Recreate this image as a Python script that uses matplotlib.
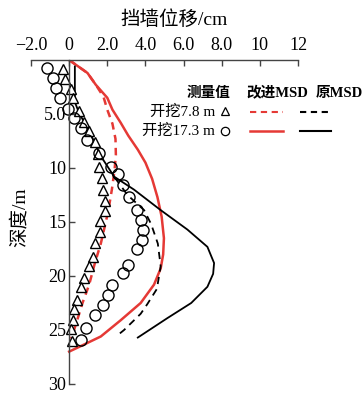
import matplotlib
matplotlib.use("Agg")
import matplotlib.pyplot as plt
from matplotlib.lines import Line2D

plt.rcParams['font.family'] = ['Liberation Serif', 'Noto Sans CJK SC']
plt.rcParams['axes.unicode_minus'] = True

# measured points (depth in m, displacement in cm)
tri_y = [0.83, 1.76, 2.65, 3.5, 4.7, 5.7, 6.6, 7.6, 8.7, 9.9, 10.9, 12.0, 13.1,
         14.0, 14.9, 15.9, 16.9, 18.2, 19.1, 20.2, 21.0, 22.2, 23.1, 24.1, 24.9, 26.0]
tri_x = [-0.31, -0.2, 0.09, 0.18, 0.5, 0.79, 1.05, 1.38, 1.52, 1.57, 1.73, 1.8, 1.86,
         1.86, 1.62, 1.62, 1.36, 1.23, 1.02, 0.79, 0.61, 0.40, 0.26, 0.18, 0.09, 0.14]

cir_y = [0.7, 1.65, 2.55, 3.5, 4.5, 5.4, 6.3, 7.4, 8.6, 9.9, 10.6, 11.6, 12.7, 13.9,
         14.8, 15.7, 16.7, 17.5, 19.0, 19.7, 20.8, 21.8, 22.7, 23.6, 24.8, 25.9]
cir_x = [-1.15, -0.87, -0.70, -0.50, -0.05, 0.26, 0.61, 0.96, 1.57, 2.2, 2.55, 2.8, 3.14, 3.58,
         3.75, 3.86, 3.82, 3.58, 3.1, 2.85, 2.27, 2.04, 1.75, 1.35, 0.87, 0.61]

# improved MSD
imp78_y = [0, 1.2, 2.3, 3.4, 4.6, 5.9, 7.3, 8.8, 10.2, 12.0, 14.0, 15.7, 17.0, 18.8,
           20.8, 22.5, 24.5, 25.8]
imp78_x = [0, 0.96, 1.4, 1.8, 2.0, 2.27, 2.43, 2.45, 2.38, 2.24, 2.05, 1.83, 1.66, 1.35,
           1.05, 0.7, 0.35, 0.1]

imp173_y = [0, 1.2, 2.3, 3.5, 4.6, 5.8, 7.0, 8.3, 9.5, 11.0, 12.7, 14.5, 16.5, 18.0,
            19.3, 20.8, 22.5, 24.1, 25.6, 26.5, 27.0]
imp173_x = [0, 0.96, 1.4, 2.0, 2.27, 2.7, 3.1, 3.6, 4.0, 4.35, 4.63, 4.85, 4.97, 4.93,
            4.8, 4.45, 3.75, 2.7, 1.66, 0.6, 0]

# original MSD
org78_y = [10.9, 12.5, 13.9, 15.2, 17.0, 19.1, 21.2, 22.6, 23.5, 25.0, 25.5]
org78_x = [2.4, 3.06, 3.93, 4.3, 4.65, 4.8, 4.6, 4.1, 3.75, 2.88, 2.53]

org173_y = [0.6, 3.9, 4.9, 6.6, 8.9, 10.8, 12.0, 13.9, 15.7, 17.3, 18.8, 19.8, 21.0,
            22.5, 23.9, 25.7]
org173_x = [0.3, 0.3, 0.52, 1.05, 1.66, 2.36, 3.4, 4.8, 6.2, 7.25, 7.6, 7.55, 7.25,
            6.4, 5.15, 3.6]

xticks = [-2, 0, 2, 4, 6, 8, 10, 12]
xlabels = ['\u22122.0', '0', '2.0', '4.0', '6.0', '8.0', '10', '12']
yticks = [5, 10, 15, 20, 25, 30]
ylabels = ['5.0', '10', '15', '20', '25', '30']

red = '#e53935'
W, H = 364, 394

fig = plt.figure(figsize=(W / 100, H / 100), dpi=100)
ax = fig.add_axes([31 / W, 1 - 384 / H, (298 - 31) / W, (384 - 60) / H])

ax.plot(imp78_x, imp78_y, color=red, lw=1.8, dashes=(3, 2.2))
ax.plot(imp173_x, imp173_y, color=red, lw=1.8)
ax.plot(org78_x, org78_y, color='black', lw=1.3, dashes=(4, 3))
ax.plot(org173_x, org173_y, color='black', lw=1.3)
ax.plot(tri_x, tri_y, ls='none', marker='^', ms=7, mfc='white', mec='black', mew=1)
ax.plot(cir_x, cir_y, ls='none', marker='o', ms=8, mfc='none', mec='black', mew=1)

ax.set_xlim(-2, 12)
ax.set_ylim(30, 0)
ax.xaxis.tick_top()
ax.set_xticks(xticks)
ax.set_xticklabels(xlabels)
ax.set_yticks(yticks)
ax.set_yticklabels(ylabels)
ax.tick_params(axis='both', direction='in', length=4, width=1, colors='#444',
               labelcolor='black', labelsize=13)
ax.tick_params(axis='x', pad=4)
ax.tick_params(axis='y', pad=2)
ax.spines['left'].set_position(('data', 0))
ax.spines['right'].set_visible(False)
ax.spines['bottom'].set_visible(False)
for s in ['left', 'top']:
    ax.spines[s].set_color('#444')
    ax.spines[s].set_linewidth(1)
ax.patch.set_visible(False)

fig.text(174 / W, 1 - 20 / H, '挡墙位移/cm', ha='center', va='center', fontsize=14)
fig.text(20 / W, 1 - 217 / H, '深度/m', ha='center', va='center', fontsize=14,
         rotation=90)

# table legend
def fx(p):
    return p / W

def fy(p):
    return 1 - p / H

fig.text(fx(209), fy(93), '测量值', ha='center', va='center', fontsize=10.5, fontweight='bold')
fig.text(fx(277), fy(93), '改进MSD', ha='center', va='center', fontsize=10.5, fontweight='bold')
fig.text(fx(339), fy(93), '原MSD', ha='center', va='center', fontsize=10.5, fontweight='bold')
fig.text(fx(215), fy(112), '开挖7.8 m', ha='right', va='center', fontsize=11)
fig.text(fx(215), fy(131), '开挖17.3 m', ha='right', va='center', fontsize=11)
fig.add_artist(Line2D([fx(225)], [fy(111)], ls='none', marker='^', ms=6,
                      mfc='white', mec='black', mew=0.9))
fig.add_artist(Line2D([fx(225)], [fy(131)], ls='none', marker='o', ms=6,
                      mfc='none', mec='black', mew=0.9))
fig.add_artist(Line2D([fx(250), fx(283)], [fy(112), fy(112)], color=red, lw=1.5,
                      dashes=(3, 2.2)))
fig.add_artist(Line2D([fx(300), fx(331)], [fy(112), fy(112)], color='black', lw=1.5,
                      dashes=(3, 2.2)))
fig.add_artist(Line2D([fx(250), fx(283)], [fy(131), fy(131)], color=red, lw=1.8))
fig.add_artist(Line2D([fx(300), fx(331)], [fy(131), fy(131)], color='black', lw=1.5))

fig.savefig('out.png', dpi=100)
